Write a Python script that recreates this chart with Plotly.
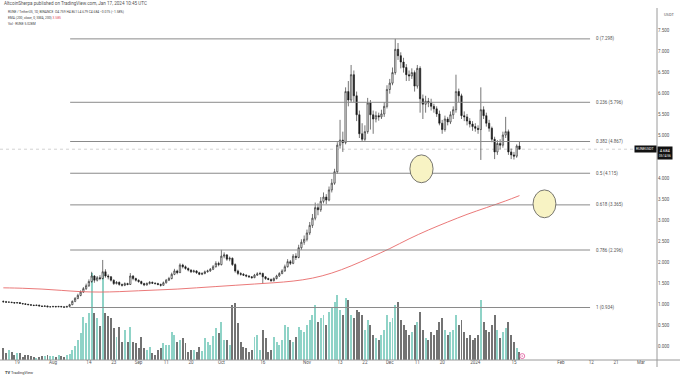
import plotly.graph_objects as go
import pandas as pd

# ---------------- data ----------------
start_date = "2023-07-14"
first_open = 1.08

closes = [
    1.07, 1.06, 1.06, 1.05, 1.04, 1.05, 1.03, 1.02, 1.01, 1.00,
    0.99, 0.98, 0.99, 0.97, 0.96, 0.97, 0.95, 0.95, 0.96, 0.95,
    0.96, 0.95, 0.94, 0.96, 1.00, 1.08, 1.15, 1.22, 1.30, 1.38,
    1.45, 1.55, 1.68, 1.58, 1.64, 1.62, 1.78, 1.68, 1.66, 1.58,
    1.50, 1.53, 1.48, 1.46, 1.50, 1.48, 1.68, 1.62, 1.58, 1.55,
    1.50, 1.47, 1.50, 1.53, 1.51, 1.50, 1.48, 1.46, 1.52, 1.58,
    1.62, 1.72, 1.80, 1.76, 1.94, 1.90, 1.86, 1.82, 1.78, 1.80,
    1.76, 1.72, 1.74, 1.78, 1.80, 1.84, 1.90, 1.98, 1.95, 2.15,
    2.18, 2.08, 2.10, 1.95, 1.80, 1.74, 1.72, 1.70, 1.68, 1.66,
    1.64, 1.70, 1.73, 1.74, 1.66, 1.62, 1.60, 1.57, 1.62, 1.68,
    1.74, 1.80, 1.90, 2.02, 1.98, 2.15, 2.12, 2.35, 2.48, 2.55,
    2.70, 2.88, 3.05, 3.30, 3.25, 3.45, 3.55, 3.48, 3.72, 3.88,
    4.15, 4.78, 4.90, 4.84, 6.05, 5.85, 6.45, 5.95, 5.50, 5.05,
    4.92, 5.10, 5.78, 5.50, 5.40, 5.48, 5.45, 5.52, 5.70, 6.10,
    6.25, 6.50, 7.05, 6.90, 6.75, 6.62, 6.45, 6.42, 6.50, 6.18,
    6.60, 5.88, 5.75, 5.82, 5.78, 5.70, 5.64, 5.52, 5.30, 5.15,
    5.40, 5.33, 5.50, 5.62, 6.05, 5.95, 5.48, 5.45, 5.35, 5.28,
    5.22, 5.18, 5.15, 5.62, 5.48, 5.30, 5.18, 4.92, 4.62, 4.82,
    4.78, 5.02, 5.10, 4.62, 4.55, 4.52, 4.759, 4.684,
]

highs = [
    1.10, 1.09, 1.08, 1.07, 1.06, 1.06, 1.06, 1.04, 1.03, 1.02,
    1.01, 1.00, 1.00, 1.00, 0.98, 0.98, 0.98, 0.96, 0.97, 0.97,
    0.97, 0.97, 0.96, 0.97, 1.02, 1.10, 1.18, 1.26, 1.34, 1.42,
    1.50, 1.60, 1.78, 1.70, 1.68, 1.70, 2.06, 1.84, 1.72, 1.68,
    1.60, 1.56, 1.55, 1.50, 1.53, 1.52, 1.75, 1.70, 1.64, 1.60,
    1.57, 1.52, 1.53, 1.56, 1.55, 1.53, 1.52, 1.50, 1.55, 1.61,
    1.66, 1.76, 1.85, 1.83, 1.98, 1.97, 1.93, 1.88, 1.84, 1.83,
    1.82, 1.78, 1.77, 1.81, 1.83, 1.87, 1.94, 2.03, 2.02, 2.30,
    2.24, 2.20, 2.14, 2.12, 1.98, 1.83, 1.77, 1.75, 1.72, 1.70,
    1.68, 1.73, 1.77, 1.78, 1.76, 1.68, 1.64, 1.62, 1.65, 1.71,
    1.77, 1.84, 1.95, 2.08, 2.06, 2.20, 2.22, 2.42, 2.55, 2.64,
    2.78, 2.96, 3.15, 3.42, 3.40, 3.55, 3.66, 3.62, 3.80, 3.98,
    4.22, 4.85, 5.38, 5.10, 6.15, 6.30, 6.68, 6.55, 6.05, 5.60,
    5.30, 5.25, 5.90, 5.85, 5.60, 5.58, 5.55, 5.62, 5.80, 6.20,
    6.35, 6.62, 7.298, 7.20, 6.98, 6.85, 6.70, 6.55, 6.60, 6.55,
    6.68, 6.65, 5.98, 5.95, 5.90, 5.88, 5.76, 5.70, 5.60, 5.38,
    5.48, 5.45, 5.58, 5.70, 6.45, 6.12, 6.00, 5.58, 5.52, 5.42,
    5.35, 5.30, 5.25, 6.15, 5.70, 5.55, 5.38, 5.22, 4.98, 4.90,
    4.92, 5.10, 5.45, 5.15, 4.70, 4.62, 4.80, 4.861,
]

lows = [
    1.05, 1.05, 1.05, 1.04, 1.03, 1.03, 1.02, 1.01, 1.00, 0.99,
    0.98, 0.97, 0.97, 0.96, 0.95, 0.95, 0.94, 0.94, 0.94, 0.94,
    0.94, 0.94, 0.935, 0.935, 0.934, 0.99, 1.06, 1.13, 1.20, 1.28,
    1.35, 1.42, 1.52, 1.52, 1.55, 1.58, 1.60, 1.64, 1.60, 1.55,
    1.47, 1.48, 1.45, 1.43, 1.44, 1.46, 1.47, 1.58, 1.55, 1.52,
    1.48, 1.44, 1.45, 1.48, 1.49, 1.48, 1.46, 1.43, 1.45, 1.50,
    1.56, 1.60, 1.70, 1.72, 1.75, 1.86, 1.83, 1.79, 1.75, 1.76,
    1.73, 1.70, 1.70, 1.72, 1.76, 1.78, 1.82, 1.88, 1.91, 1.93,
    2.10, 2.04, 2.03, 1.92, 1.76, 1.70, 1.69, 1.68, 1.65, 1.64,
    1.62, 1.63, 1.68, 1.70, 1.50, 1.59, 1.58, 1.54, 1.55, 1.60,
    1.66, 1.72, 1.78, 1.88, 1.94, 1.96, 2.06, 2.10, 2.30, 2.42,
    2.50, 2.65, 2.82, 3.00, 3.12, 3.20, 3.40, 3.38, 3.45, 3.66,
    3.84, 4.10, 4.70, 4.62, 4.80, 5.70, 5.80, 5.80, 5.35, 4.95,
    4.87, 4.88, 5.05, 5.15, 5.05, 5.32, 5.36, 5.40, 5.45, 5.65,
    6.00, 6.20, 6.45, 6.80, 6.60, 6.50, 6.30, 6.30, 6.35, 6.05,
    6.12, 5.55, 5.40, 5.55, 5.68, 5.60, 5.55, 5.45, 5.25, 5.05,
    5.10, 5.25, 5.28, 5.40, 5.55, 5.80, 5.40, 5.35, 5.25, 5.20,
    5.12, 5.10, 5.05, 4.43, 5.40, 5.22, 5.10, 4.85, 4.45, 4.55,
    4.68, 4.72, 4.95, 4.55, 4.45, 4.44, 4.48, 4.679,
]

volumes_m = [
    7.7, 4.5, 6.4, 5.1, 3.2, 4.5, 4.5, 1.9, 3.2, 3.2,
    2.6, 1.9, 1.3, 1.9, 2.6, 2.6, 3.2, 2.6, 2.6, 1.9,
    3.2, 2.6, 1.9, 3.2, 3.8, 6.4, 9.0, 12.8, 17.3, 27.5,
    23.7, 30.1, 55.7, 30.1, 26.9, 22.0, 55.7, 30.1, 28.2, 26.9,
    20.5, 14.7, 21.1, 11.5, 19.2, 11.5, 21.1, 11.5, 10.9, 7.7,
    14.7, 7.7, 6.4, 8.3, 4.5, 3.2, 6.4, 7.7, 10.9, 9.6,
    9.6, 17.9, 16.0, 11.5, 12.8, 14.1, 10.9, 5.1, 6.4, 6.4,
    5.1, 8.3, 5.8, 14.1, 11.5, 9.6, 15.4, 20.5, 17.3, 24.3,
    12.8, 12.8, 9.6, 35.2, 36.5, 23.7, 11.5, 8.3, 7.7, 5.1,
    6.4, 14.7, 16.0, 6.4, 19.2, 14.1, 5.1, 6.4, 14.7, 11.5,
    9.6, 12.8, 22.4, 21.1, 12.8, 11.5, 14.7, 21.1, 19.2, 17.9,
    22.4, 25.6, 28.8, 35.2, 24.3, 26.9, 28.8, 22.4, 30.7, 33.3,
    37.1, 41.6, 32.0, 28.8, 39.7, 38.4, 28.8, 26.9, 32.0, 30.7,
    28.8, 19.2, 25.6, 22.4, 16.0, 14.1, 12.8, 16.0, 19.2, 28.8,
    24.3, 26.9, 35.2, 37.1, 25.6, 22.4, 19.2, 16.0, 17.9, 22.4,
    24.3, 30.7, 19.2, 14.1, 12.8, 17.9, 16.0, 19.2, 24.3, 26.9,
    19.2, 16.0, 17.9, 19.2, 28.8, 22.4, 25.6, 17.9, 14.1, 16.0,
    12.8, 14.1, 16.0, 38.4, 24.3, 19.2, 17.9, 22.4, 28.8, 19.2,
    14.1, 17.9, 20.5, 24.3, 16.0, 11.5, 7.7, 5.028,
]

ema_dates = [
    "2023-07-14", "2023-07-21", "2023-07-28", "2023-08-04", "2023-08-11",
    "2023-08-18", "2023-08-25", "2023-09-01", "2023-09-08", "2023-09-15",
    "2023-09-22", "2023-09-29", "2023-10-06", "2023-10-13", "2023-10-20",
    "2023-10-27", "2023-11-03", "2023-11-10", "2023-11-17", "2023-11-24",
    "2023-12-01", "2023-12-08", "2023-12-15", "2023-12-22", "2023-12-29",
    "2024-01-05", "2024-01-12", "2024-01-17",
]
ema_values = [
    1.40, 1.39, 1.37, 1.34, 1.31, 1.30, 1.31, 1.33, 1.35, 1.37,
    1.40, 1.43, 1.46, 1.49, 1.52, 1.56, 1.63, 1.75, 1.92, 2.12,
    2.33, 2.56, 2.77, 2.96, 3.14, 3.30, 3.46, 3.585,
]

fib_ratios = ["0", "0.236", "0.382", "0.5", "0.618", "0.786", "1"]
fib_levels = [7.298, 5.796, 4.867, 4.115, 3.365, 2.296, 0.934]
fib_start = "2023-08-07 05:00"
fib_end = "2024-02-11 14:00"

tick_dates = ["2023-07-19", "2023-08-01", "2023-08-14", "2023-08-23", "2023-09-01",
              "2023-09-11", "2023-09-20", "2023-10-01", "2023-10-16", "2023-11-01",
              "2023-11-13", "2023-11-22", "2023-12-01", "2023-12-11", "2023-12-20",
              "2024-01-01", "2024-01-15", "2024-02-01", "2024-02-12", "2024-02-21",
              "2024-03-01"]
tick_text = ["19", "Aug", "14", "23", "Sep", "11", "20", "Oct", "16", "Nov",
             "13", "22", "Dec", "11", "20", "2024", "15", "Feb", "12", "21", "Mar"]

price_ticks = [0.0, 0.5, 1.0, 1.5, 2.0, 2.5, 3.0, 3.5, 4.0, 4.5, 5.0, 5.5, 6.0, 6.5, 7.0, 7.5]

last_price = 4.684

# ---------------- figure ----------------
dates = pd.date_range(start_date, periods=len(closes), freq="D")
opens = [first_open] + closes[:-1]
UP_VOL = "#8fd3c7"
DN_VOL = "#737373"
vol_colors = [UP_VOL if c >= o else DN_VOL for o, c in zip(opens, closes)]

FONT = "Roboto, Liberation Sans, sans-serif"
fig = go.Figure()

fig.add_trace(go.Bar(
    x=dates, y=volumes_m, marker=dict(color=vol_colors, line=dict(width=0)),
    width=86400000 * 0.72, yaxis="y", hoverinfo="skip",
))

fig.add_trace(go.Scatter(
    x=ema_dates, y=ema_values, mode="lines", yaxis="y2",
    line=dict(color="#e86a6a", width=0.9, shape="spline"), hoverinfo="skip",
))

fig.add_trace(go.Candlestick(
    x=dates, open=opens, high=highs, low=lows, close=closes, yaxis="y2",
    increasing=dict(line=dict(color="#1a1a1a", width=0.6), fillcolor="#ffffff"),
    decreasing=dict(line=dict(color="#1a1a1a", width=0.6), fillcolor="#1a1a1a"),
    whiskerwidth=0, hoverinfo="skip",
))

shapes = []
annotations = []

# last price dotted line
shapes.append(dict(type="line", xref="paper", x0=0, x1=1, yref="y2", y0=last_price, y1=last_price,
                   line=dict(color="#c8c8c8", width=0.8, dash="dot"), layer="below"))

# fib levels
for r, v in zip(fib_ratios, fib_levels):
    shapes.append(dict(type="line", xref="x", x0=fib_start, x1=fib_end, yref="y2", y0=v, y1=v,
                       line=dict(color="#8a8a8a", width=1)))
    annotations.append(dict(x=fib_end, xref="x", y=v, yref="y2", xanchor="left", yanchor="middle",
                            xshift=4, text=f"{r} ({v:.3f})", showarrow=False,
                            font=dict(size=4.5, color="#555", family=FONT)))

# ellipses
shapes.append(dict(type="circle", xref="x", yref="y2", x0="2023-12-08 07:00", x1="2023-12-16 17:00",
                   y0=3.89, y1=4.55, fillcolor="#f8f3c4", line=dict(color="#555", width=0.8)))
shapes.append(dict(type="circle", xref="x", yref="y2", x0="2024-01-21 22:00", x1="2024-01-30 05:00",
                   y0=3.06, y1=3.72, fillcolor="#f8f3c4", line=dict(color="#555", width=0.8)))

# axis frame lines
shapes.append(dict(type="line", xref="paper", yref="paper", x0=0, x1=680 / 657, y0=0, y1=0,
                   line=dict(color="#9a9a9a", width=1)))
shapes.append(dict(type="line", xref="paper", yref="paper", x0=1, x1=1, y0=-7 / 352, y1=1,
                   line=dict(color="#9a9a9a", width=1)))

# header texts
def ptxt(x_px, y_px, text, size, color="#444", anchor="left"):
    annotations.append(dict(xref="paper", yref="paper", x=x_px / 657, y=(360 - y_px) / 352,
                            xanchor=anchor, yanchor="middle", text=text, showarrow=False,
                            font=dict(size=size, color=color, family=FONT)))

ptxt(2, 4, "AltcoinSherpa published on TradingView.com, Jan 17, 2024 10:45 UTC", 4.6, "#555")
ptxt(6, 12, "RUNE / TetherUS, 1D, BINANCE  O4.759 H4.861 L4.679 C4.684 \u22120.075 (\u22121.58%)", 3.3)
ptxt(6, 18, "EMA (200, close, 0, SMA, 200) <span style='color:#e04a5a'>3.585</span>", 3.3)
ptxt(6, 24, "Vol \u00b7 RUNE 5.028M", 3.3)
ptxt(662, 14, "USDT", 4.0, "#555")
ptxt(3, 372, "<b>TV</b> TradingView", 4.0, "#333")

# price labels on right axis
annotations.append(dict(xref="paper", x=1, yref="y2", y=last_price, xanchor="right", yanchor="middle",
                        text="RUNEUSDT", showarrow=False, bgcolor="#111", borderpad=1,
                        font=dict(size=3.5, color="white", family=FONT)))
annotations.append(dict(xref="paper", x=1, yref="y2", y=last_price, xanchor="left", yanchor="top",
                        yshift=3, text="4.684<br><span style='font-size:3px'>05:14:56</span>",
                        showarrow=False, bgcolor="#111", borderpad=1,
                        font=dict(size=4.0, color="white", family=FONT)))

# event marker under last bar
fig.add_trace(go.Scatter(x=[dates[-1] + pd.Timedelta(days=1)], y=[2.5], yaxis="y", mode="markers",
                         marker=dict(symbol="circle-open-dot", size=5, color="#e0559a",
                                     line=dict(width=0.8, color="#e0559a")), hoverinfo="skip"))

fig.update_layout(
    width=680, height=379,
    margin=dict(l=0, r=23, t=8, b=19),
    paper_bgcolor="white", plot_bgcolor="white",
    showlegend=False, hovermode=False,
    font=dict(family=FONT),
    xaxis=dict(type="date", range=["2023-07-12 19:00", "2024-03-06 20:00"],
               rangeslider=dict(visible=False), showgrid=False, zeroline=False,
               tickmode="array", tickvals=tick_dates, ticktext=tick_text,
               tickfont=dict(size=4.5, color="#555"), ticks="", showline=False,
               ticklabelstandoff=-2),
    yaxis=dict(range=[0, 225], visible=False, showgrid=False, zeroline=False),
    yaxis2=dict(overlaying="y", side="right", range=[-0.31, 8.03],
                tickmode="array", tickvals=price_ticks,
                ticktext=[f"{v:.3f}" for v in price_ticks],
                tickfont=dict(size=4.5, color="#555"), showgrid=False, zeroline=False,
                showline=False, ticks=""),
    shapes=shapes, annotations=annotations,
    bargap=0,
)

fig.write_html("out.html", config={"displayModeBar": False, "staticPlot": True},
               post_script="document.body.style.margin='0';document.body.style.padding='0';document.body.style.overflow='hidden';")
